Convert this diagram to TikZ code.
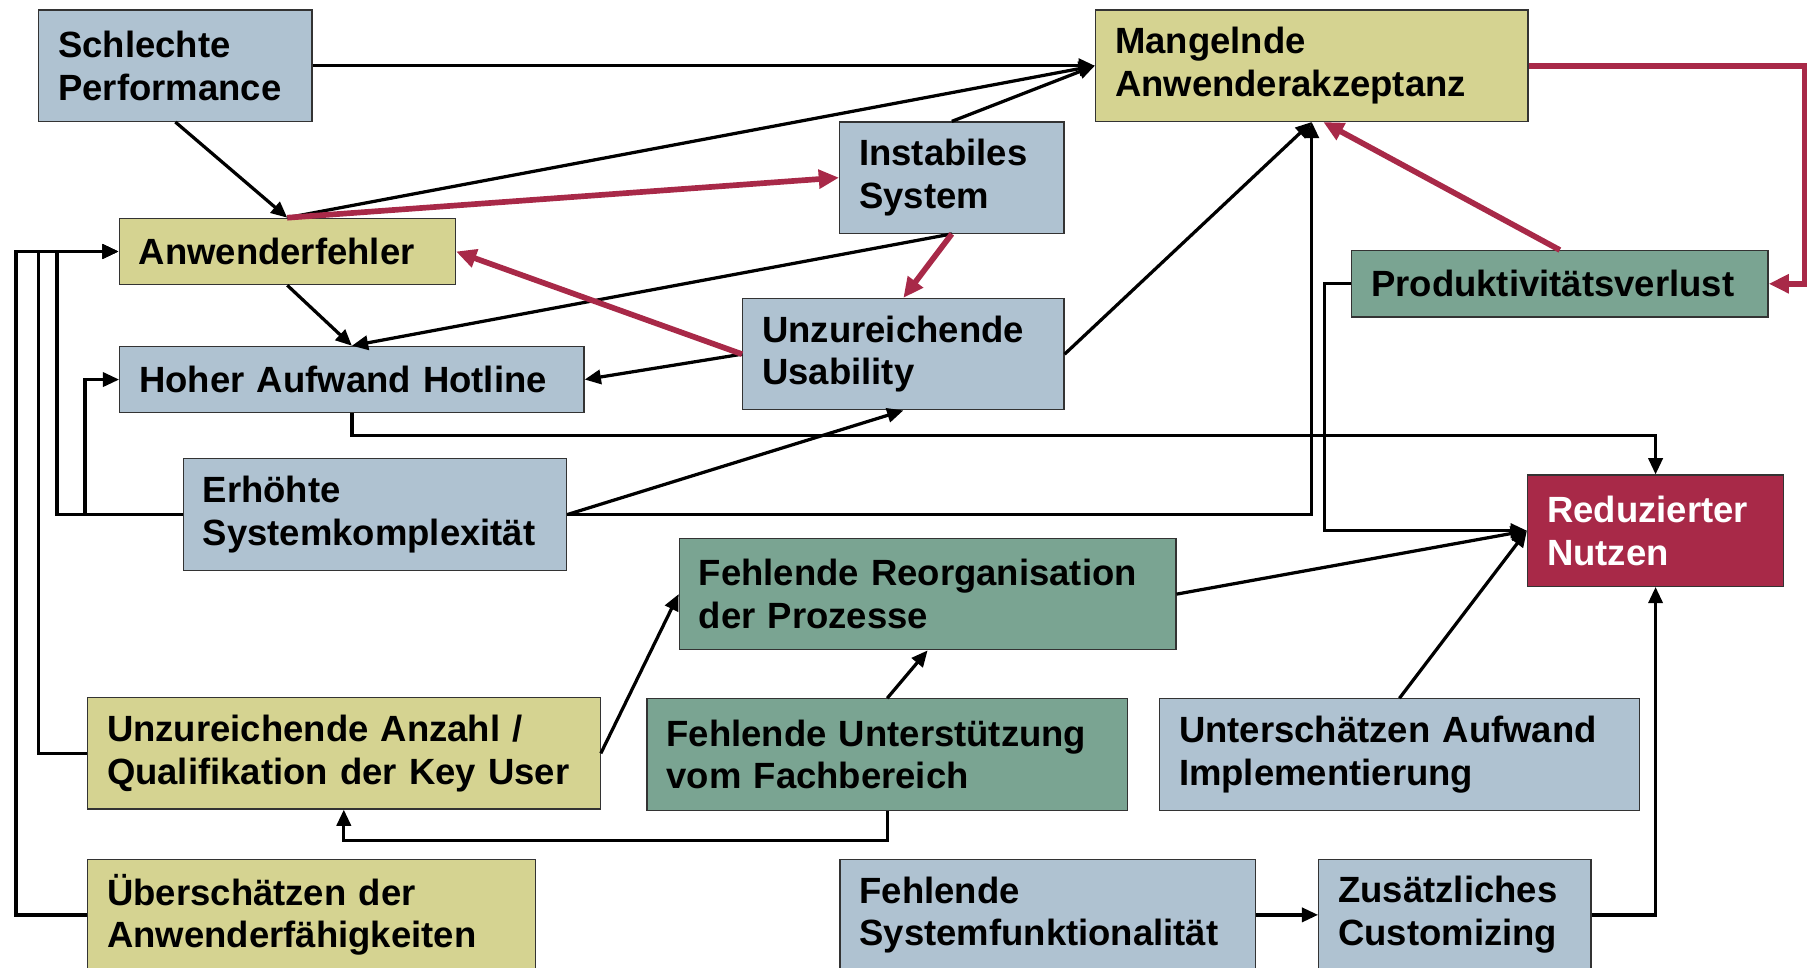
\documentclass[tikz,border=0pt]{standalone}
\usepackage{fontspec}
\setmainfont{Liberation Sans}
\usetikzlibrary{arrows.meta}
\definecolor{boxBlue}{RGB}{175,194,209}
\definecolor{boxKhaki}{RGB}{213,211,145}
\definecolor{boxGreen}{RGB}{122,164,146}
\definecolor{boxRed}{RGB}{168,41,72}
\tikzstyle{labeledBox}=[shape = rectangle, draw = black!80, line width = 0.6pt, inner xsep = 0.34cm, inner ysep = 0pt, align = left, font = \fontsize{18}{21}\selectfont\bfseries]
\tikzstyle{labeledTwo}=[labeledBox, minimum height = 1.93cm]
\tikzstyle{labeledOne}=[labeledBox, minimum height = 1.15cm]

\begin{document}
\begin{tikzpicture}[scale = 2]
\tikzstyle{blackEdge}=[draw, line width = 1.6pt, -{Triangle[length = 8pt, width = 7pt]}]
\tikzstyle{redEdge}=[draw = boxRed, line width = 2.8pt, -{Triangle[length = 10pt, width = 9pt]}]
\useasboundingbox (0,0) rectangle (15.68,8.39);
\node[labeledTwo, fill = boxBlue, text width = 4.06cm] (v0) at (1.52,7.82) {Schlechte\\Performance};
\node[labeledTwo, fill = boxKhaki, text width = 6.82cm] (v1) at (11.37,7.82) {Mangelnde\\Anwenderakzeptanz};
\node[labeledTwo, fill = boxBlue, text width = 3.21cm] (v2) at (8.25,6.85) {Instabiles\\System};
\node[labeledOne, fill = boxKhaki, text width = 5.15cm] (v3) at (2.49,6.21) {Anwenderfehler};
\node[labeledOne, fill = boxGreen, text width = 6.54cm] (v4) at (13.52,5.93) {Produktivitätsverlust};
\node[labeledTwo, fill = boxBlue, text width = 4.89cm] (v5) at (7.83,5.32) {Unzureichende\\Usability};
\node[labeledOne, fill = boxBlue, text width = 7.37cm] (v6) at (3.05,5.10) {Hoher Aufwand Hotline};
\node[labeledTwo, fill = boxBlue, text width = 5.97cm] (v7) at (3.25,3.93) {Erhöhte\\Systemkomplexität};
\node[labeledTwo, fill = boxRed, text = white, text width = 3.76cm] (v8) at (14.35,3.79) {Reduzierter\\Nutzen};
\node[labeledTwo, fill = boxGreen, text width = 7.93cm] (v9) at (8.04,3.24) {Fehlende Reorganisation\\der Prozesse};
\node[labeledTwo, fill = boxKhaki, text width = 8.21cm] (v10) at (2.98,1.86) {Unzureichende Anzahl /\\Qualifikation der Key User};
\node[labeledTwo, fill = boxGreen, text width = 7.65cm] (v11) at (7.69,1.85) {Fehlende Unterstützung\\vom Fachbereich};
\node[labeledTwo, fill = boxBlue, text width = 7.64cm] (v12) at (12.13,1.85) {Unterschätzen Aufwand\\Implementierung};
\node[labeledTwo, fill = boxKhaki, text width = 7.08cm] (v13) at (2.70,0.46) {Überschätzen der\\Anwenderfähigkeiten};
\node[labeledTwo, fill = boxBlue, text width = 6.52cm] (v14) at (9.08,0.46) {Fehlende\\Systemfunktionalität};
\node[labeledTwo, fill = boxBlue, text width = 4.04cm] (v15) at (12.61,0.46) {Zusätzliches\\Customizing};
\draw[blackEdge] (v0.east) -- (v1.west);
\draw[blackEdge] (v3.north) -- (v1.west);
\draw[blackEdge] (v2.north) -- (v1.west);
\draw[blackEdge] (v0.south) -- (v3.north);
\draw[blackEdge] (v3.south) -- (v6.north);
\draw[blackEdge] (v2.south) -- (v6.north);
\draw[blackEdge] (v5.west) -- (v6.east);
\draw[blackEdge] (v5.east) -- (v1.south);
\draw[blackEdge] (v7.east) -- (v5.south);
\draw[blackEdge] (v7.east) -| (v1.south);
\draw[blackEdge] (v6.south) -- ++(0,-0.195) -| (v8.north);
\draw[blackEdge] (v4.west) -- ++(-0.23,0) |- (v8.west);
\draw[blackEdge] (v9.east) -- (v8.west);
\draw[blackEdge] (v12.north) -- (v8.west);
\draw[blackEdge] (v15.east) -| (v8.south);
\draw[blackEdge] (v14.east) -- (v15.west);
\draw[blackEdge] (v11.north) -- (v9.south);
\draw[blackEdge] (v11.south) -- ++(0,-0.257) -| (v10.south);
\draw[blackEdge] (v10.east) -- (v9.west);
\draw[blackEdge] (v10.west) -- ++(-0.418,0) |- (v3.west);
\draw[blackEdge] (v13.west) -- ++(-0.617,0) |- (v3.west);
\draw[blackEdge] (v7.west) -- ++(-1.088,0) |- (v3.west);
\draw[blackEdge] (v7.west) -- ++(-0.846,0) |- (v6.west);
\draw[redEdge] (v3.north) -- (v2.west);
\draw[redEdge] (v5.west) -- (v3.east);
\draw[redEdge] (v2.south) -- (v5.north);
\draw[redEdge] (v4.north) -- ([xshift = 0.1cm]v1.south);
\draw[redEdge] (v1.east) -- ++(2.39,0) |- (v4.east);
\end{tikzpicture}
\end{document}
